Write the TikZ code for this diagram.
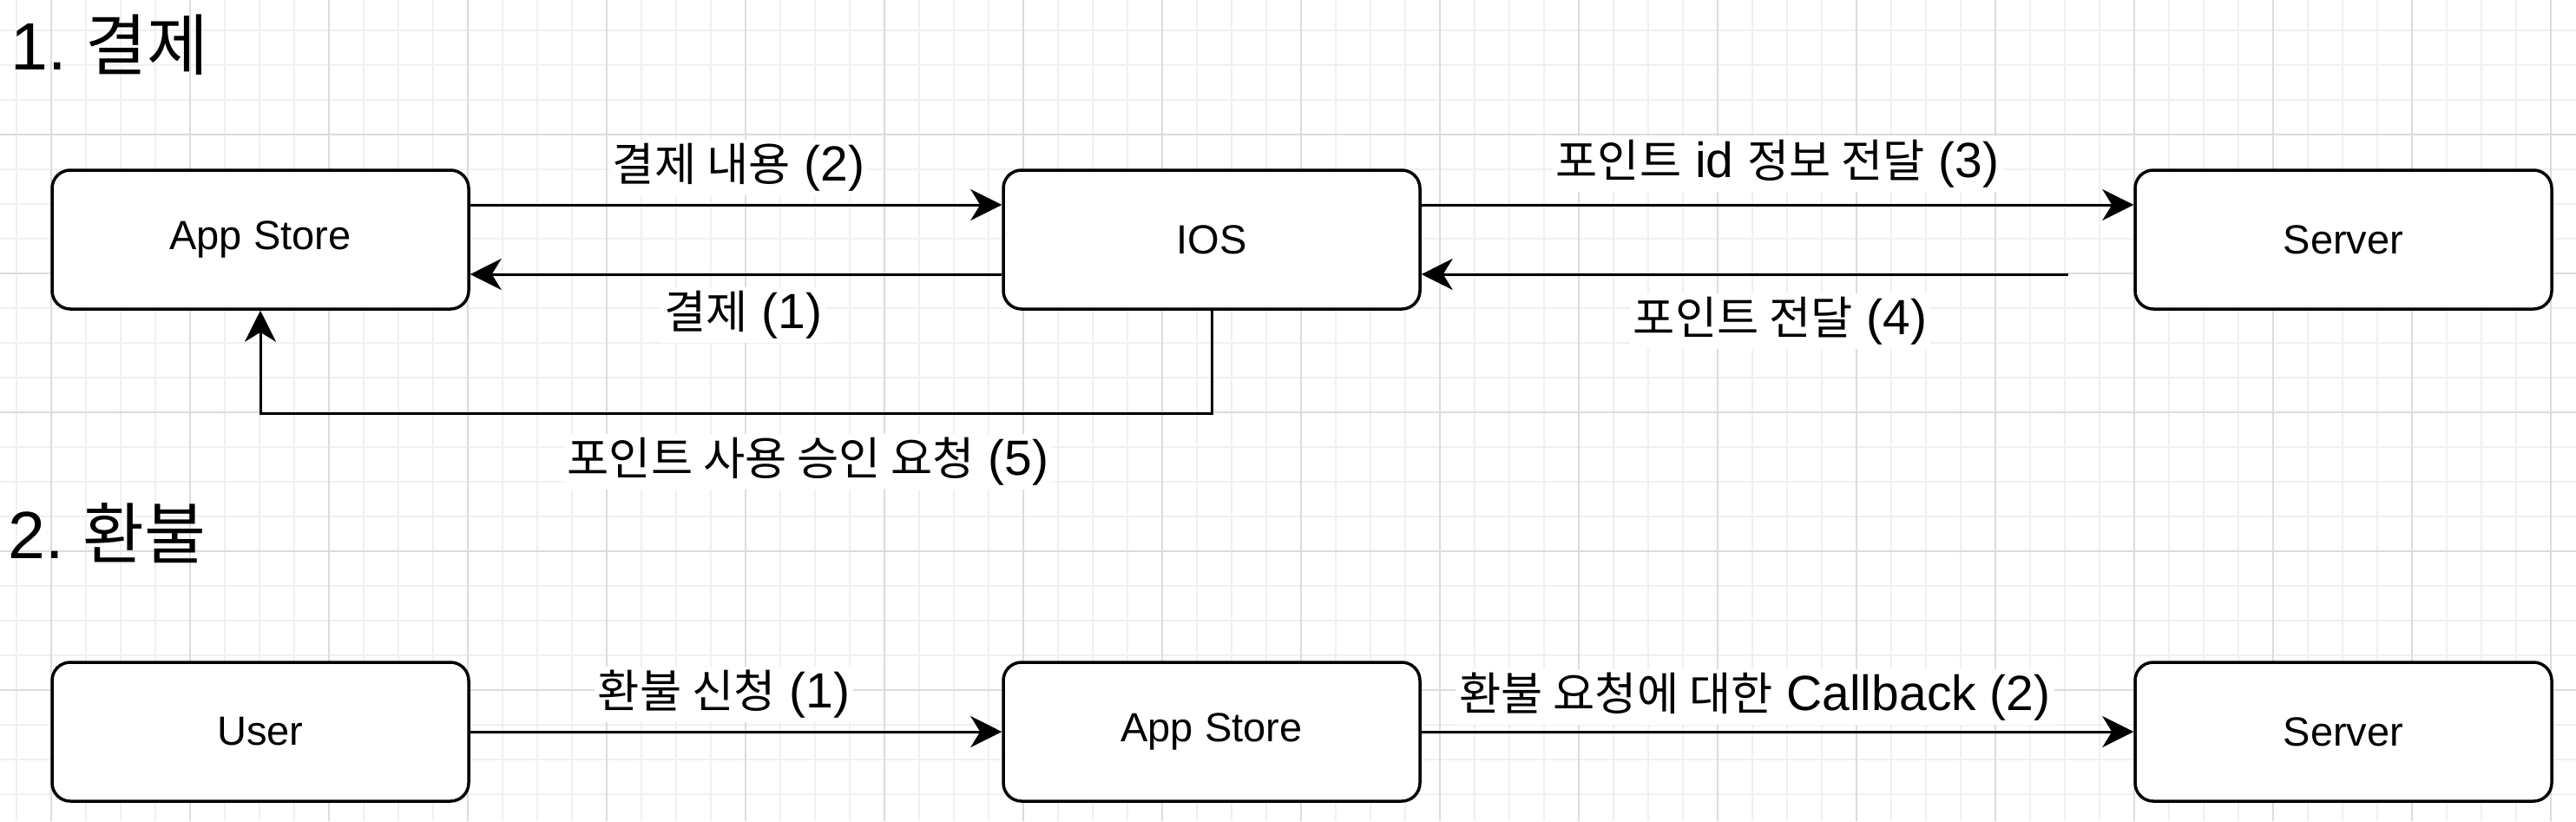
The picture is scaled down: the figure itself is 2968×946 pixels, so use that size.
\documentclass[tikz,border=0pt]{standalone}
\usepackage{fontspec}
\setmainfont{Liberation Sans}
\newfontfamily\krfont[Scale=0.92]{Noto Sans CJK KR}
\newfontfamily\krhead{Noto Sans CJK KR}
\usetikzlibrary{arrows.meta}
\definecolor{gridlight}{HTML}{F0F0F0}
\definecolor{griddark}{HTML}{DCDCDC}
\newcommand{\kr}[1]{{\krfont #1}}
\tikzset{
  box/.style={draw, line width=3.5pt, rounded corners=21pt, minimum width=480pt,
    minimum height=160pt, fill=white, font=\fontsize{47}{56}\selectfont},
  flow/.style={line width=3pt, -{Stealth[length=36pt,width=36pt,inset=11pt]}},
  elabel/.style={fill=white, inner sep=4pt, font=\fontsize{57}{68}\selectfont},
  heading/.style={anchor=west, inner sep=0pt, font=\fontsize{77}{92}\selectfont},
}

\begin{document}
\begin{tikzpicture}[x=1pt,y=-1pt]
  \useasboundingbox (0,0) rectangle (2968,946);
  % background grid
  \foreach \gx in {19,59,...,2979} \draw[gridlight, line width=2pt] (\gx,0) -- (\gx,946);
  \foreach \gy in {35,75,...,955} \draw[gridlight, line width=2pt] (0,\gy) -- (2968,\gy);
  \foreach \gx in {59,219,...,2939} \draw[griddark, line width=2pt] (\gx,0) -- (\gx,946);
  \foreach \gy in {155,315,...,955} \draw[griddark, line width=2pt] (0,\gy) -- (2968,\gy);

  % 1. payment
  \node[heading] (pay) at (12,52) {1.\hspace{22pt}{\krhead 결제}};
  \node[box] (store) at (300,276) {App Store};
  \node[box] (ios) at (1396,276) {IOS};
  \node[box] (server) at (2700,276) {Server};
  \coordinate (srvout) at (2383,316);

  \draw[flow] ([yshift=40pt]store.east) -- ([yshift=40pt]ios.west);
  \draw[flow] ([yshift=-40pt]ios.west) -- ([yshift=-40pt]store.east);
  \draw[flow] ([yshift=40pt]ios.east) -- ([yshift=40pt]server.west);
  \draw[flow] (srvout) -- ([yshift=-40pt]ios.east);
  \draw[flow] (ios.south) -- ++(0,119) -| (store.south);

  \node[elabel] (paydetail) at (851,193) {\kr{결제 내용} (2)};
  \node[elabel] (payreq) at (856,363) {\kr{결제} (1)};
  \node[elabel] (pointid) at (2048,189) {\kr{포인트} id \kr{정보 전달} (3)};
  \node[elabel] (pointsend) at (2051,370) {\kr{포인트 전달} (4)};
  \node[elabel] (approve) at (931,532) {\kr{포인트 사용 승인 요청} (5)};

  % 2. refund
  \node[heading] (refund) at (9,614) {2.\hspace{22pt}{\krhead 환불}};
  \node[box] (user) at (300,843) {User};
  \node[box] (store2) at (1396,843) {App Store};
  \node[box] (server2) at (2700,843) {Server};

  \draw[flow] (user) -- (store2);
  \draw[flow] (store2) -- (server2);

  \node[elabel] (refundreq) at (834,800) {\kr{환불 신청} (1)};
  \node[elabel] (callback) at (2022,803) {\kr{환불 요청에 대한} Callback (2)};
\end{tikzpicture}
\end{document}
